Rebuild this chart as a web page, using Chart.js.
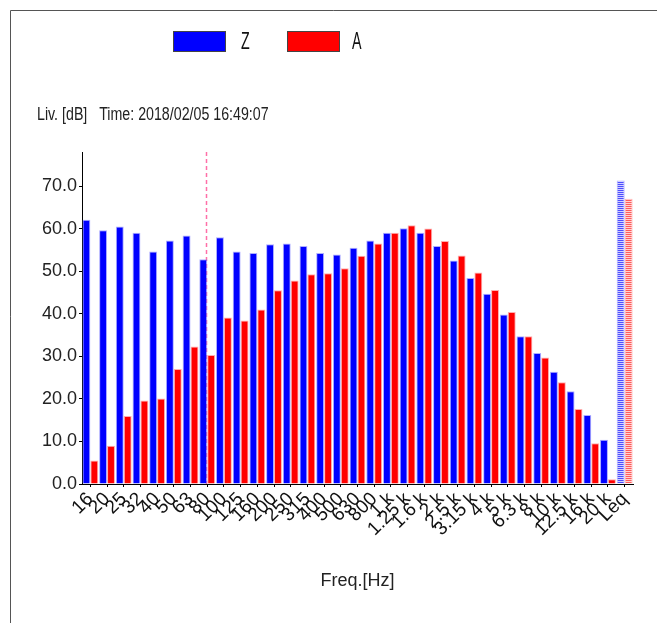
<!DOCTYPE html>
<html>
<head>
<meta charset="utf-8">
<script src="https://cdn.jsdelivr.net/npm/chart.js@4/dist/chart.umd.min.js"></script>
<style>
  html, body { margin: 0; padding: 0; background: #fff; }
  #wrap { position: relative; width: 657px; height: 623px; }
</style>
</head>
<body>
<div id="wrap"><canvas id="levelChart" width="657" height="623"></canvas></div>
<script>
const categories = ['16', '20', '25', '32', '40', '50', '63', '80', '100', '125', '160',
  '200', '250', '315', '400', '500', '630', '800', '1 k', '1.25 k', '1.6 k', '2 k',
  '2.5 k', '3.15 k', '4 k', '5 k', '6.3 k', '8 k', '10 k', '12.5 k', '16 k', '20 k', 'Leq'];

const zLevels = [62.1, 59.6, 60.5, 59.0, 54.6, 57.2, 58.4, 52.8, 58.0, 54.6, 54.3,
  56.3, 56.5, 55.9, 54.3, 53.9, 55.5, 57.2, 59.0, 60.1, 59.0, 55.9,
  52.5, 48.4, 44.7, 39.8, 34.7, 30.8, 26.4, 21.8, 16.2, 10.4, 71.3];

const aLevels = [5.5, 9.0, 16.0, 19.6, 20.1, 27.0, 32.3, 30.3, 39.1, 38.4, 41.0,
  45.5, 47.8, 49.3, 49.5, 50.7, 53.6, 56.5, 59.0, 60.8, 60.0, 57.1,
  53.7, 49.7, 45.6, 40.4, 34.7, 29.7, 23.9, 17.6, 9.6, 1.1, 67.0];

const yLabelValues = [0, 10, 20, 30, 40, 50, 60, 70];
const cursorCategory = '80';
const titleText = 'Liv. [dB]   Time: 2018/02/05 16:49:07';

const FONT = "'Liberation Sans', Arial, sans-serif";

// striped fill used for the overall (Leq) bars
function stripes(dark, light) {
  const c = document.createElement('canvas');
  c.width = 4;
  c.height = 2;
  const g = c.getContext('2d');
  g.fillStyle = dark;
  g.fillRect(0, 0, 4, 1);
  g.fillStyle = light;
  g.fillRect(0, 1, 4, 1);
  return g.createPattern(c, 'repeat');
}

// text squeezed horizontally, the instrument software uses a condensed face
function narrowText(ctx, text, x, y, size, squeeze) {
  ctx.save();
  ctx.font = `${size}px ${FONT}`;
  ctx.textBaseline = 'middle';
  ctx.translate(x, y);
  ctx.scale(squeeze, 1);
  ctx.fillText(text, 0, 0);
  ctx.restore();
}

const leqIndex = categories.indexOf('Leq');
const blueStripes = stripes('#4d4dff', '#d0d0ff');
const redStripes = stripes('#ff5a5a', '#ffd0d0');

const decorations = {
  id: 'decorations',
  beforeDraw(chart) {
    const ctx = chart.ctx;
    ctx.save();
    // frame
    ctx.strokeStyle = '#555';
    ctx.lineWidth = 1;
    ctx.beginPath();
    ctx.moveTo(10.5, 623);
    ctx.lineTo(10.5, 10.5);
    ctx.lineTo(657, 10.5);
    ctx.stroke();

    // legend
    const items = [
      { label: 'Z', color: '#0000ff', x: 173, tx: 241 },
      { label: 'A', color: '#ff0000', x: 287, tx: 352 },
    ];
    items.forEach((it) => {
      ctx.fillStyle = it.color;
      ctx.fillRect(it.x, 31, 53, 21);
      ctx.strokeStyle = '#444';
      ctx.strokeRect(it.x + 0.5, 31.5, 52, 20);
      ctx.fillStyle = '#111';
      narrowText(ctx, it.label, it.tx, 43, 23, 0.62);
    });

    // title line
    ctx.fillStyle = '#222';
    narrowText(ctx, titleText, 37, 115, 18, 0.79);
    ctx.restore();
  },
  beforeDatasetsDraw(chart) {
    const { ctx, chartArea, scales } = chart;
    const x = Math.round(scales.x.getPixelForValue(categories.indexOf(cursorCategory))) - 0.5;
    ctx.save();
    ctx.strokeStyle = '#ff6fa8';
    ctx.lineWidth = 1.5;
    ctx.setLineDash([4, 3]);
    ctx.beginPath();
    ctx.moveTo(x, chartArea.top);
    ctx.lineTo(x, chartArea.bottom);
    ctx.stroke();
    ctx.restore();
  },
};

Chart.defaults.color = '#222';
Chart.defaults.font.family = FONT;

const ctx = document.getElementById('levelChart').getContext('2d');
new Chart(ctx, {
  type: 'bar',
  data: {
    labels: categories,
    datasets: [
      {
        label: 'Z',
        data: zLevels,
        backgroundColor: (c) => (c.index === leqIndex ? blueStripes : '#0000ff'),
        borderColor: 'rgba(120, 120, 255, 0.6)',
        borderWidth: 1,
        categoryPercentage: 0.95,
        barPercentage: 1.0,
      },
      {
        label: 'A',
        data: aLevels,
        backgroundColor: (c) => (c.index === leqIndex ? redStripes : '#ff0000'),
        borderColor: 'rgba(255, 120, 120, 0.6)',
        borderWidth: 1,
        categoryPercentage: 0.95,
        barPercentage: 1.0,
      },
    ],
  },
  options: {
    responsive: false,
    animation: false,
    layout: {
      padding: { left: 0, right: 24, top: 152, bottom: 0 },
    },
    plugins: {
      legend: { display: false },
      title: { display: false },
      tooltip: { enabled: false },
    },
    scales: {
      x: {
        offset: true,
        afterFit(scale) {
          scale.height = 139;
        },
        border: { color: '#000', width: 1 },
        grid: {
          offset: false,
          drawOnChartArea: false,
          tickLength: 3,
          color: '#000',
        },
        ticks: {
          autoSkip: false,
          minRotation: 45,
          maxRotation: 45,
          padding: 1,
          font: { size: 19 },
          color: '#111',
        },
        title: {
          display: true,
          text: 'Freq.[Hz]',
          font: { size: 18 },
          color: '#222',
          padding: { top: 4, bottom: 31 },
        },
      },
      y: {
        min: 0,
        max: 78,
        afterFit(scale) {
          scale.width = 82;
        },
        border: { color: '#000', width: 1 },
        grid: {
          drawOnChartArea: false,
          tickLength: 3,
          color: '#000',
        },
        ticks: {
          stepSize: 5,
          includeBounds: false,
          padding: 2,
          font: { size: 18 },
          color: '#222',
          callback(value) {
            return yLabelValues.includes(value) ? value.toFixed(1) : '';
          },
        },
      },
    },
  },
  plugins: [decorations],
});
</script>
</body>
</html>
